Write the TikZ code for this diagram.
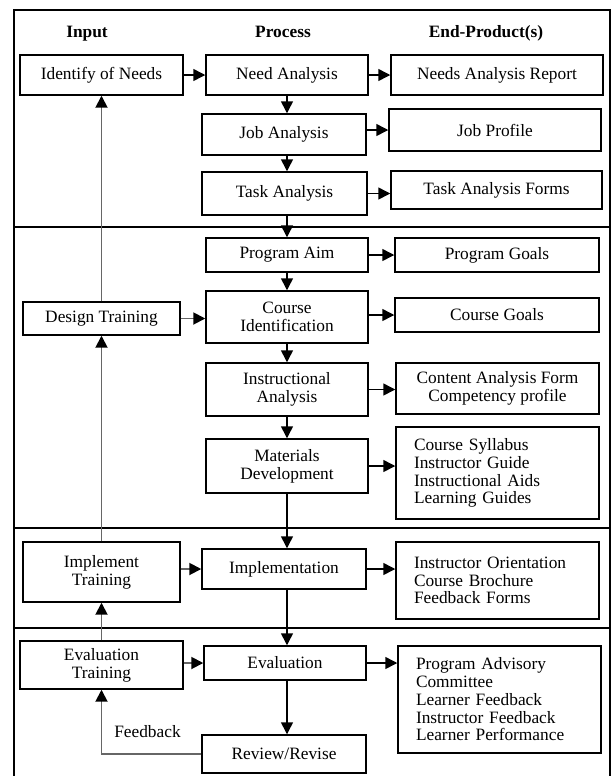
\documentclass[tikz,border=0pt]{standalone}
\usepackage{fontspec}
\setmainfont{Liberation Serif}
\usetikzlibrary{arrows.meta}

\newcommand{\boxfont}{\fontsize{13}{13.3}\selectfont}

\tikzset{every picture/.style={line width=0.75pt}}
\tikzset{
  box/.style={draw, line width=1.1pt, inner sep=0.75pt, align=center, font=\boxfont},
  listbox/.style={box, align=left, inner xsep=13.5pt, text width=125.25pt},
  head/.style={inner sep=0.75pt, anchor=base, font=\boxfont\bfseries},
  lbl/.style={inner sep=0.75pt, font=\boxfont},
  arr/.style={line width=1.1pt, -{Triangle[length=9pt,width=9pt]}},
  back/.style={draw=black!60, line width=1.4pt, -{Triangle[length=9pt,width=9pt,color=black]}},
  frame/.style={line width=1.1pt}
}

\begin{document}
\begin{tikzpicture}[x=0.75pt,y=0.75pt,yscale=-1,xscale=1]
\useasboundingbox (0,0) rectangle (613,776);

%Frame and band lines
\draw [frame] (14,776) -- (14,10) -- (610,10) -- (610,776) ;
\draw [frame] (14,227) -- (610,227) ;
\draw [frame] (14,528) -- (610,528) ;
\draw [frame] (14,628) -- (610,628) ;

% Text Node
\node [head] (hinput) at (87,37) {Input};
% Text Node
\node [head] (hprocess) at (283,37) {Process};
% Text Node
\node [head] (hproduct) at (486,37) {End-Product(s)};

%Shape: Rectangle (needs band)
\node [box, minimum width=122.25pt, minimum height=30pt] (ident) at (101.5,75) {Identify of Needs};
\node [box, minimum width=121.5pt, minimum height=30pt] (need) at (287,75) {Need Analysis};
\node [box, minimum width=159pt, minimum height=30pt] (report) at (497,75) {Needs Analysis Report};
\node [box, minimum width=123pt, minimum height=30.75pt] (job) at (284,134.5) {Job Analysis};
\node [box, minimum width=159pt, minimum height=31.5pt] (profile) at (495,130) {Job Profile};
\node [box, minimum width=123.75pt, minimum height=32.25pt] (task) at (284.5,193.5) {Task Analysis};
\node [box, minimum width=158.25pt, minimum height=28.5pt] (forms) at (496.5,190) {Task Analysis Forms};

%Shape: Rectangle (design band)
\node [box, minimum width=121.5pt, minimum height=25.5pt] (aim) at (287,255) {Program Aim};
\node [box, minimum width=153pt, minimum height=25.5pt] (goals) at (497,255) {Program Goals};
\node [box, minimum width=117.75pt, minimum height=24.75pt] (design) at (101.5,318.5) {Design Training};
\node [box, minimum width=121.5pt, minimum height=39pt] (courseid) at (287,317) {Course\\Identification};
\node [box, minimum width=153pt, minimum height=25.5pt] (cgoals) at (497,315) {Course Goals};
\node [box, minimum width=121.5pt, minimum height=39.75pt] (instr) at (287,389.5) {Instructional\\Analysis};
\node [box, minimum width=152.25pt, minimum height=38.25pt] (content) at (497.5,388.5) {Content Analysis Form\\Competency profile};
\node [box, minimum width=121.5pt, minimum height=40.5pt] (mat) at (287,466) {Materials\\Development};
\node [listbox, minimum height=69pt] (syll) at (497.5,473) {Course Syllabus\\Instructor Guide\\Instructional Aids\\Learning Guides};

%Shape: Rectangle (implementation band)
\node [box, minimum width=117.75pt, minimum height=45pt] (implT) at (101.5,572) {Implement\\Training};
\node [box, minimum width=123pt, minimum height=30pt] (impl) at (284,569) {Implementation};
\node [listbox, minimum height=57.75pt] (orient) at (497.5,580.5) {Instructor Orientation\\Course Brochure\\Feedback Forms};

%Shape: Rectangle (evaluation band)
\node [box, minimum width=122.25pt, minimum height=36pt] (evalT) at (101.5,665) {Evaluation\\Training};
\node [box, minimum width=121.5pt, minimum height=25.5pt] (eval) at (285,663) {Evaluation};
\node [listbox, minimum height=80.25pt] (advis) at (499.5,699.5) {Program Advisory\\Committee\\Learner Feedback\\Instructor Feedback\\Learner Performance};
\node [box, minimum width=123pt, minimum height=28.5pt] (review) at (284,754) {Review/Revise};

% Text Node
\node [lbl] (fb) at (147.5,732) {Feedback};

%Straight Lines: process chain
\draw [arr] (need.south) -- (need.south |- job.north) ;
\draw [arr] (job.south -| need) -- (task.north -| need) ;
\draw [arr] (task.south -| need) -- (aim.north -| need) ;
\draw [arr] (aim.south) -- (courseid.north) ;
\draw [arr] (courseid.south) -- (instr.north) ;
\draw [arr] (instr.south) -- (mat.north) ;
\draw [arr] (mat.south) -- (impl.north -| mat) ;
\draw [arr] (impl.south -| need) -- (eval.north -| need) ;
\draw [arr] (eval.south -| need) -- (review.north -| need) ;

%Straight Lines: to end-products
\draw [arr] (need.east) -- (report.west) ;
\draw [arr] (job.east |- profile.west) -- (profile.west) ;
\draw [arr] (task.east) -- (task.east -| forms.west) ;
\draw [arr] (aim.east) -- (goals.west) ;
\draw [arr] (courseid.east |- cgoals.west) -- (cgoals.west) ;
\draw [arr] (instr.east) -- (instr.east -| content.west) ;
\draw [arr] (mat.east) -- (mat.east -| syll.west) ;
\draw [arr] (impl.east) -- (impl.east -| orient.west) ;
\draw [arr] (eval.east) -- (eval.east -| advis.west) ;

%Straight Lines: inputs
\draw [arr] (ident.east) -- (need.west) ;
\draw [back] (design.east) -- (design.east -| courseid.west) ;
\draw [back] (implT.east |- impl.west) -- (impl.west) ;
\draw [back] (evalT.east |- eval.west) -- (eval.west) ;

%Straight Lines: feedback loop
\draw [back] (review.west) -| (evalT.south) ;
\draw [back] (evalT.north) -- (implT.south) ;
\draw [back] (implT.north) -- (design.south) ;
\draw [back] (design.north) -- (ident.south) ;

\end{tikzpicture}
\end{document}
